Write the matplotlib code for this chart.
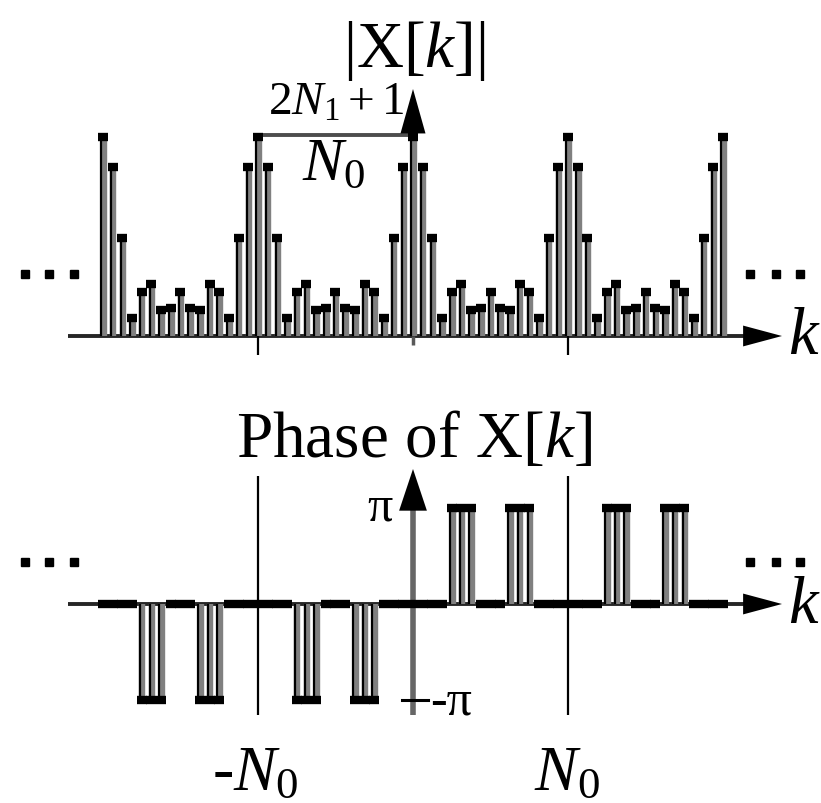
import numpy as np
import matplotlib
matplotlib.use("Agg")
import matplotlib.pyplot as plt

plt.rcParams['font.family'] = ['Liberation Serif', 'DejaVu Serif']
plt.rcParams['mathtext.fontset'] = 'custom'
plt.rcParams['mathtext.rm'] = 'Liberation Serif'
plt.rcParams['mathtext.it'] = 'Liberation Serif:italic'

# one period (k = 0 .. N0-1) of |X[k]|, peak = 2*N1+1 = 5
N0 = 16
mag_period = [5.0, 4.25, 2.45, 0.45, 1.1, 1.3, 0.65, 0.7,
              1.1, 0.7, 0.65, 1.3, 1.1, 0.45, 2.45, 4.25]
# phase over one period, in units of pi (k > 0 side; k < 0 side is the mirror, -pi)
phase_period = [0, 0, 0, 0, 1, 1, 1, 0, 0, 0, 1, 1, 1, 0, 0, 0]
k = np.arange(-2 * N0, 2 * N0 + 1)

mag = np.array(mag_period)[k % N0]
phase = np.sign(k) * np.array(phase_period)[np.abs(k) % N0]

W, H = 821, 804
fig = plt.figure(figsize=(W / 100, H / 100), dpi=100)

# pixel layout helpers
x0_px = 413.0     # k = 0
dk_px = 9.69      # pixels per k
xlim = (-x0_px / dk_px, (W - x0_px) / dk_px)

def kx(px):
    return (px - x0_px) / dk_px

# top panel covers pixel rows 0..380, baseline at 337, 39.8 px per unit
top_h = 380
axm = fig.add_axes([0, 1 - top_h / H, 1, top_h / H])
my0, mscale = 337.0, 39.8
axm.set_xlim(*xlim)
axm.set_ylim((my0 - top_h) / mscale, my0 / mscale)
axm.axis('off')

def my(py):
    return (my0 - py) / mscale

# phase panel covers pixel rows 380..804, baseline at 605, 96 px per pi
axp = fig.add_axes([0, 0, 1, (H - top_h) / H])
py0, pscale = 605.0, 96.0
axp.set_xlim(*xlim)
axp.set_ylim((py0 - H) / pscale, (py0 - top_h) / pscale)
axp.axis('off')

def pyv(py):
    return (py0 - py) / pscale


def draw_stems(ax, kk, vals):
    nz = vals != 0
    ax.vlines(kk[nz] + 0.08, 0, vals[nz], colors='0.5', lw=4.6, zorder=2)
    ax.vlines(kk[nz] - 0.18, 0, vals[nz], colors='black', lw=1.6, zorder=3)
    ax.plot(kk, vals, ls='none', marker='_', ms=7.8, mew=6,
            color='black', zorder=4)


def h_axis(ax, ytxt, ydots):
    ax.plot([kx(68), kx(745)], [0, 0], color='0.15', lw=2.8, zorder=1,
            solid_capstyle='butt')
    ax.annotate('', xy=(kx(782), 0), xytext=(kx(742), 0),
                arrowprops=dict(arrowstyle='-|>,head_length=2.8,head_width=0.75',
                                mutation_scale=10, color='black', lw=0,
                                shrinkA=0, shrinkB=0), zorder=5)
    ax.text(kx(803), ytxt, 'k', fontsize=48, fontstyle='italic',
            ha='center', va='center')
    for px in (25, 49, 74, 750, 776, 800):
        ax.plot(kx(px), ydots, ls='none', marker='s', ms=5.2,
                color='black')


# ---- magnitude panel ----
draw_stems(axm, k, mag)
h_axis(axm, my(338), my(275))
# ticks below the axis at -N0, 0, N0
axm.vlines([-N0, N0], my(356), 0, colors='black', lw=1.6)
axm.vlines([0], my(346), 0, colors='0.35', lw=2.5)
# vertical arrow at k = 0 marking the peak value
axm.vlines([0], mag_period[0], my(120), colors='0.4', lw=2.5)
axm.annotate('', xy=(0, my(90)), xytext=(0, my(130)),
             arrowprops=dict(arrowstyle='-|>,head_length=3.2,head_width=0.9',
                             mutation_scale=10, color='black', lw=0,
                             shrinkA=0, shrinkB=0), zorder=5)
# dimension line between the peaks at -N0 and 0
axm.plot([-N0, 0], [my(136), my(136)], color='0.3', lw=2.8, zorder=3)
axm.text(kx(336), my(115), r'$2N_1 + 1$', fontsize=34, ha='center',
         va='baseline')
axm.text(kx(333), my(180), r'$N_0$', fontsize=44, ha='center',
         va='baseline')
axm.text(kx(414), my(67), r'$|\mathrm{X}[k]|$', fontsize=47, ha='center',
         va='baseline')

# ---- phase panel ----
h_axis(axp, pyv(607), pyv(563))
draw_stems(axp, k, phase)
axp.vlines([-N0, N0], pyv(716), pyv(477), colors='black', lw=1.6, zorder=1)
axp.vlines([0], pyv(716), pyv(490), colors='0.4', lw=4, zorder=1)
axp.annotate('', xy=(0, pyv(470)), xytext=(0, pyv(502)),
             arrowprops=dict(arrowstyle='-|>,head_length=3.0,head_width=1.0',
                             mutation_scale=10, color='black', lw=0,
                             shrinkA=0, shrinkB=0), zorder=5)
axp.plot([kx(402), kx(428)], [-1, -1], color='black', lw=2.2)
axp.text(kx(380), pyv(508), 'π', fontsize=36, ha='center', va='center')
axp.text(kx(430), pyv(702), '-π', fontsize=36, ha='left', va='center')
axp.text(kx(414), pyv(457), r'Phase of X[$k$]', fontsize=47, ha='center',
         va='baseline')
axp.text(kx(255), pyv(790), r'-$N_0$', fontsize=46, ha='center',
         va='baseline')
axp.text(kx(567), pyv(790), r'$N_0$', fontsize=46, ha='center',
         va='baseline')

fig.savefig('out.png', dpi=100)
